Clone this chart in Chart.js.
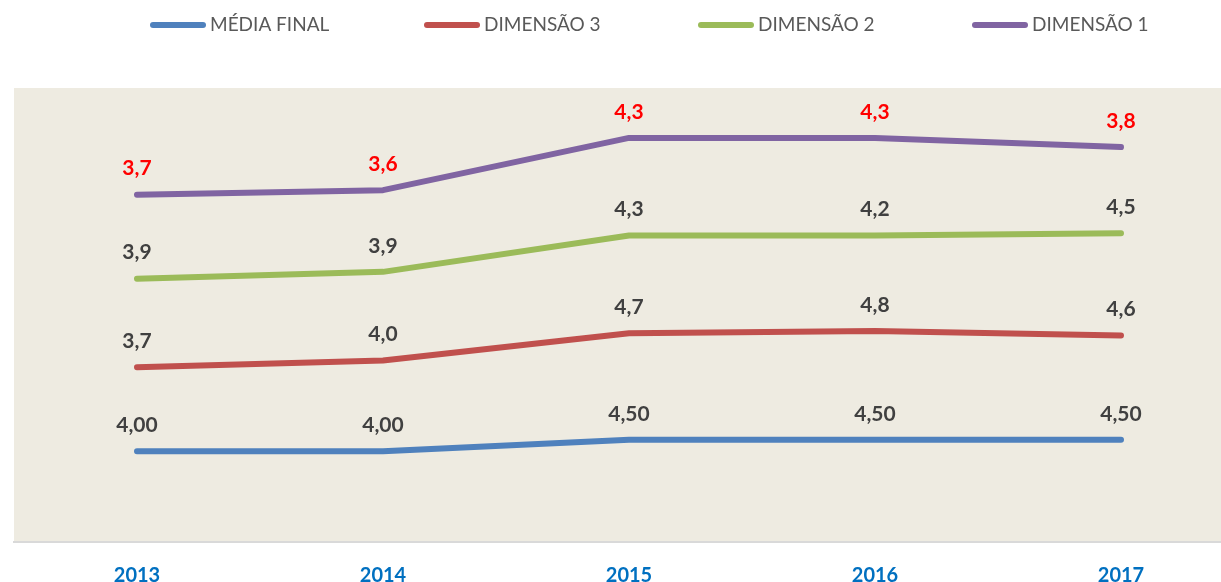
<!DOCTYPE html>
<html>
<head>
<meta charset="utf-8">
<script src="https://cdn.jsdelivr.net/npm/chart.js@4/dist/chart.umd.min.js"></script>
<style>
    html, body { margin: 0; padding: 0; background: #fff; overflow: hidden; }
    canvas { display: block; }
</style>
</head>
<body>
<canvas id="chart" width="1250" height="582"></canvas>
<script>
const years = ['2013', '2014', '2015', '2016', '2017'];
const mediaFinal = [4.00, 4.00, 4.50, 4.50, 4.50];
const dimensao3 = [3.7, 4.0, 4.7, 4.8, 4.6];
const dimensao2 = [3.9, 3.9, 4.3, 4.2, 4.5];
const dimensao1 = [3.7, 3.6, 4.3, 4.3, 3.8];

const FONT = 'Lato, "Open Sans", sans-serif';

// fundo da área do gráfico
const plotBackground = {
    id: 'plotBackground',
    beforeDraw(chart) {
        const a = chart.chartArea;
        const ctx = chart.ctx;
        ctx.save();
        ctx.fillStyle = '#EEEBE1';
        ctx.fillRect(a.left, a.top, a.right - a.left, a.bottom - a.top);
        ctx.restore();
    }
};

// rótulos com o valor de cada série (não o acumulado)
const valueLabels = {
    id: 'valueLabels',
    afterDatasetsDraw(chart) {
        const ctx = chart.ctx;
        ctx.save();
        ctx.font = 'bold 21px ' + FONT;
        ctx.textAlign = 'center';
        ctx.textBaseline = 'middle';
        chart.data.datasets.forEach((ds, i) => {
            const meta = chart.getDatasetMeta(i);
            meta.data.forEach((pt, j) => {
                const txt = ds.data[j].toFixed(ds.decimals).replace('.', ',');
                ctx.fillStyle = ds.labelColor;
                ctx.fillText(txt, pt.x, pt.y - 26);
            });
        });
        ctx.restore();
    }
};

// legenda no topo, estilo Excel (linha + texto)
const topLegend = {
    id: 'topLegend',
    afterDraw(chart) {
        const ctx = chart.ctx;
        ctx.save();
        ctx.font = '19px ' + FONT;
        ctx.textBaseline = 'middle';
        ctx.lineCap = 'round';
        ctx.lineWidth = 6;
        let x = 153;
        const y = 25;
        chart.data.datasets.forEach(ds => {
            ctx.strokeStyle = ds.borderColor;
            ctx.beginPath();
            ctx.moveTo(x, y);
            ctx.lineTo(x + 50, y);
            ctx.stroke();
            ctx.fillStyle = '#595959';
            ctx.fillText(ds.label, x + 57, y);
            x += 274;
        });
        ctx.restore();
    }
};

const lineStyle = {
    borderWidth: 6,
    pointRadius: 0,
    pointHoverRadius: 0,
    tension: 0,
    fill: false,
    borderCapStyle: 'round',
    borderJoinStyle: 'round'
};

new Chart(document.getElementById('chart'), {
    type: 'line',
    data: {
        labels: years,
        datasets: [{
            label: 'MÉDIA FINAL',
            data: mediaFinal,
            borderColor: '#4F81BD',
            decimals: 2,
            labelColor: '#404040',
            ...lineStyle
        }, {
            label: 'DIMENSÃO 3',
            data: dimensao3,
            borderColor: '#C0504D',
            decimals: 1,
            labelColor: '#404040',
            ...lineStyle
        }, {
            label: 'DIMENSÃO 2',
            data: dimensao2,
            borderColor: '#9BBB59',
            decimals: 1,
            labelColor: '#404040',
            ...lineStyle
        }, {
            label: 'DIMENSÃO 1',
            data: dimensao1,
            borderColor: '#8064A2',
            decimals: 1,
            labelColor: '#FF0000',
            ...lineStyle
        }]
    },
    options: {
        responsive: false,
        animation: false,
        layout: {
            padding: { left: 14, right: 6, top: 88, bottom: -28 }
        },
        plugins: {
            legend: { display: false },
            tooltip: { enabled: false }
        },
        scales: {
            x: {
                offset: true,
                grid: { display: false, drawTicks: false },
                border: { color: '#D9D9D9', width: 2 },
                ticks: {
                    color: '#0070C0',
                    padding: 22,
                    font: { family: FONT, size: 20, weight: 'bold' }
                }
            },
            y: {
                stacked: true,
                display: false,
                min: 0,
                max: 20
            }
        }
    },
    plugins: [plotBackground, valueLabels, topLegend]
});
</script>
</body>
</html>
